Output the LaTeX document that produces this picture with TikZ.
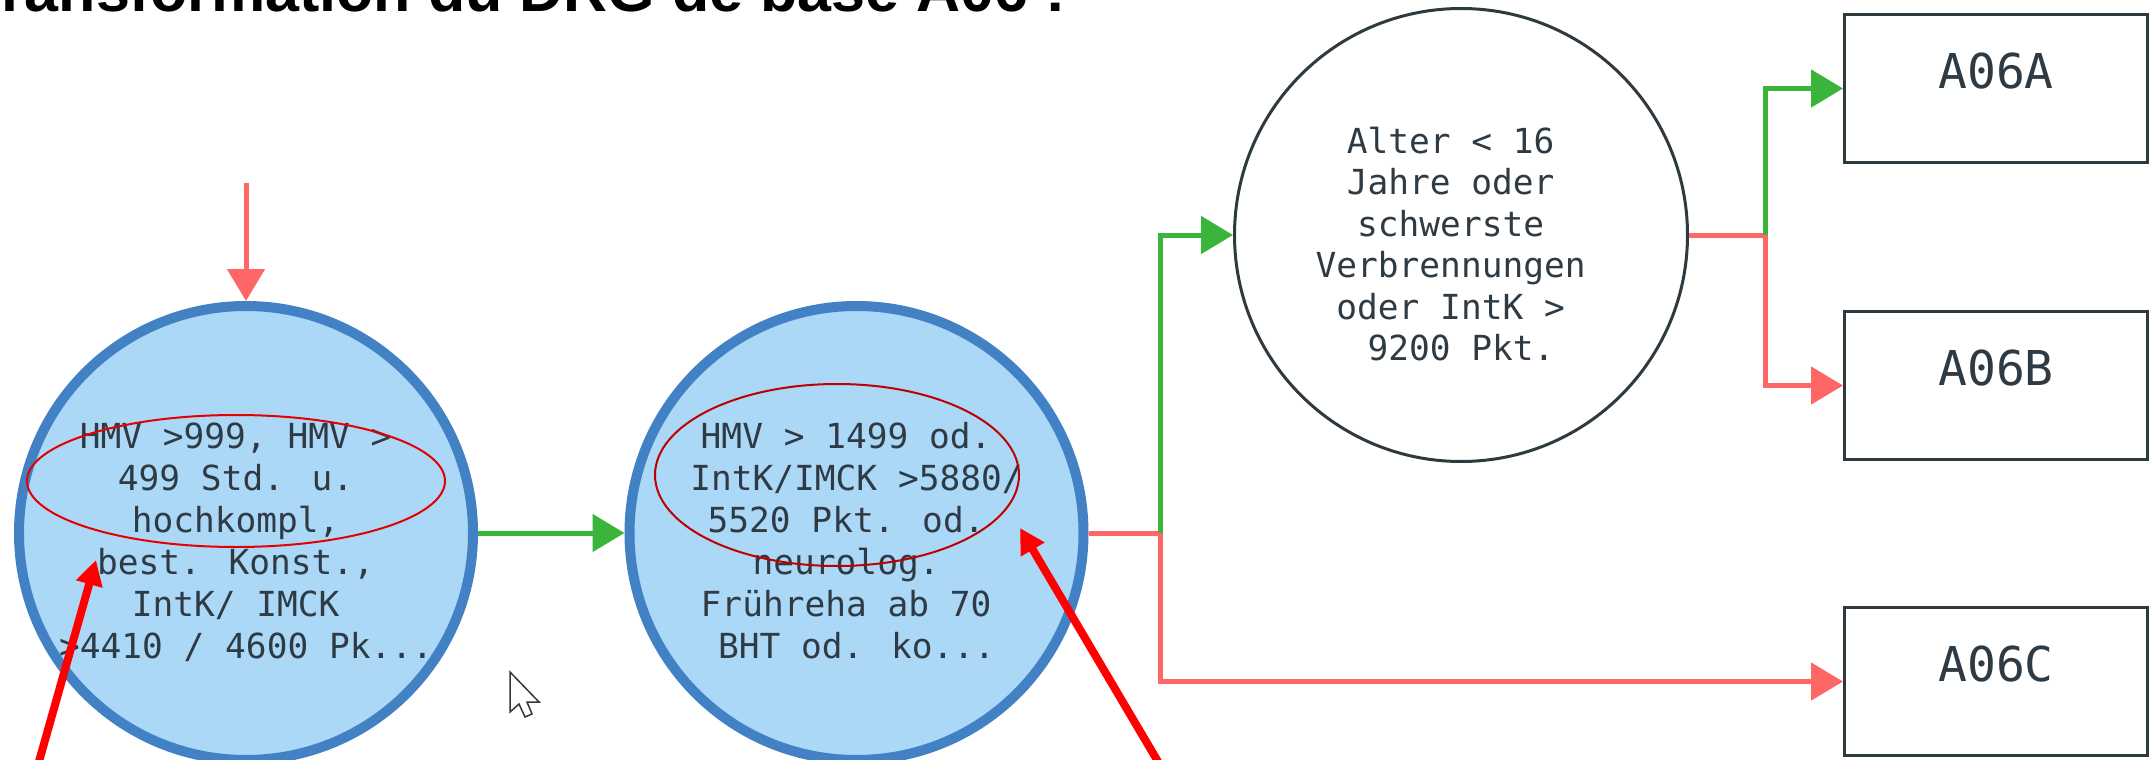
\documentclass[tikz,border=0pt]{standalone}
\usepackage{fontspec}
\usetikzlibrary{arrows.meta,shapes.geometric}
\newfontfamily\monofont{DejaVu Sans Mono}
\newfontfamily\titlefont{Liberation Sans}
\newcommand\tsp{\hphantom{0}}
\definecolor{flowred}{HTML}{FF6666}
\definecolor{flowgreen}{HTML}{3AB43A}
\definecolor{ringblue}{HTML}{4282C4}
\definecolor{ringfill}{HTML}{ABD8F7}
\definecolor{darkline}{HTML}{2F3A40}
\definecolor{textc}{HTML}{2E3B44}
\definecolor{markred}{HTML}{FF0000}
\tikzset{
  bluering/.style={circle, draw=ringblue, fill=ringfill, line width=10pt, minimum size=454pt, inner sep=0pt},
  plainring/.style={circle, draw=darkline, fill=white, line width=3pt, minimum size=453pt, inner sep=0pt},
  resbox/.style={rectangle, draw=darkline, line width=3pt, minimum width=303pt, minimum height=148pt,
     inner sep=0pt, text height=0pt, text depth=0pt, text=textc, font=\monofont\fontsize{48}{48}\selectfont},
  ctext/.style={anchor=base, inner sep=0pt, text=textc, font=\monofont\fontsize{34.5}{40}\selectfont},
  redflow/.style={draw=flowred, line width=5pt},
  greenflow/.style={draw=flowgreen, line width=5pt},
  tip/.style={-{Triangle[length=32pt,width=37pt]}},
  markarrow/.style={draw=markred, line width=8pt, -{Triangle[length=25pt,width=26pt]}},
  markell/.style={ellipse, draw=markred!90!black, line width=2pt, inner sep=0pt},
}
\begin{document}
\begin{tikzpicture}[x=1pt,y=1pt]
\useasboundingbox (0,0) rectangle (2153,-760);
\clip (0,0) rectangle (2153,-760);
\fill[white] (0,0) rectangle (2153,-760);

% title
\node[anchor=base west, inner sep=0pt, font=\titlefont\bfseries\fontsize{61}{61}\selectfont] (title) at (-33,-12) {Transformation du DRG de base A06 :};

% nodes
\node[bluering] (c1) at (246,-533) {};
\node[bluering] (c2) at (856.5,-533) {};
\node[plainring] (c3) at (1461,-235) {};
\node[resbox] (A) at (1996,-88.5) {A06A};
\node[resbox] (B) at (1996,-385.5) {A06B};
\node[resbox] (C) at (1996,-681.5) {A06C};

% texts circle 1
\node[ctext] (c1t1) at (246,-448) {HMV >999, HMV >\tsp};
\node[ctext] (c1t2) at (246,-490) {499 Std. u.\tsp};
\node[ctext] (c1t3) at (246,-532) {hochkompl,\tsp};
\node[ctext] (c1t4) at (246,-574) {best. Konst.,\tsp};
\node[ctext] (c1t5) at (246,-616) {IntK/ IMCK\tsp};
\node[ctext] (c1t6) at (246,-658) {>4410 / 4600 Pk...};
% texts circle 2
\node[ctext] (c2t1) at (856.5,-448) {HMV > 1499 od.\tsp};
\node[ctext] (c2t2) at (856.5,-490) {IntK/IMCK >5880/};
\node[ctext] (c2t3) at (856.5,-532) {5520 Pkt. od.\tsp};
\node[ctext] (c2t4) at (856.5,-574) {neurolog.\tsp};
\node[ctext] (c2t5) at (856.5,-616) {Frühreha ab 70\tsp};
\node[ctext] (c2t6) at (856.5,-658) {BHT od. ko...};
% texts circle 3
\node[ctext] (c3t1) at (1461,-153) {Alter < 16\tsp};
\node[ctext] (c3t2) at (1461,-194.5) {Jahre oder\tsp};
\node[ctext] (c3t3) at (1461,-236) {schwerste\tsp};
\node[ctext] (c3t4) at (1461,-277.5) {Verbrennungen\tsp};
\node[ctext] (c3t5) at (1461,-319) {oder IntK >\tsp};
\node[ctext] (c3t6) at (1461,-360.5) {9200 Pkt.};

% connectors
\coordinate (start) at (246,-183);
\coordinate (j1) at (1160,-533);
\coordinate (j2) at (1765,-235);
\draw[redflow, tip] (start) -- (c1.north);
\draw[greenflow, tip] (c1.east) -- (c2.west);
\draw[redflow] (c2.east) -- (j1);
\draw[greenflow, tip] (j1) |- (c3.west);
\draw[redflow, tip] (j1) |- (C.west);
\draw[redflow] (c3.east) -- (j2);
\draw[greenflow, tip] (j2) |- (A.west);
\draw[redflow, tip] (j2) |- (B.west);

% cursor
\draw[darkline, line width=1.5pt, fill=white, line join=miter]
  (510,-672) -- (510,-712) -- (519,-704) -- (525,-717) -- (532,-714) -- (527,-702) -- (539,-702) -- cycle;

% annotations
\node[markell, minimum width=418pt, minimum height=132pt] (e1) at (236,-481) {};
\node[markell, draw=markred!75!black, minimum width=364pt, minimum height=182pt] (e2) at (837,-475) {};
\coordinate (m1s) at (38,-765);
\coordinate (m1e) at (96,-560);
\coordinate (m2s) at (1160,-765);
\coordinate (m2e) at (1020,-528);
\draw[markarrow] (m1s) -- (m1e);
\draw[markarrow] (m2s) -- (m2e);
\end{tikzpicture}
\end{document}
